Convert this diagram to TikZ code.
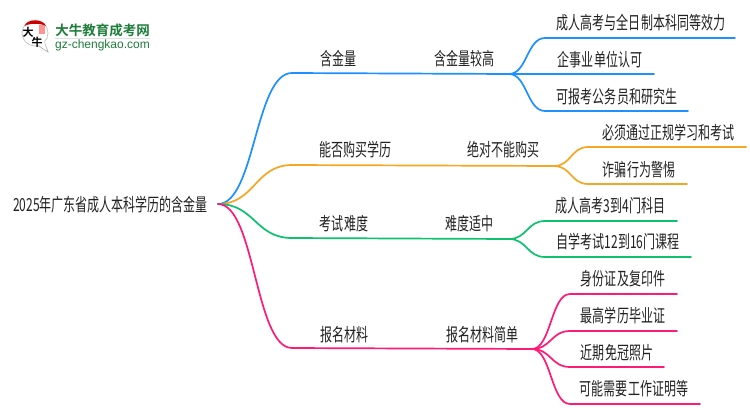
\documentclass[tikz,border=0pt]{standalone}
\usepackage{fontspec}
\setmainfont{Noto Sans CJK SC}
\newfontfamily\cjkbold{Noto Sans CJK SC Bold}
\newfontfamily\latinlogo{Liberation Sans}
\usetikzlibrary{calc}
\definecolor{cblue}{HTML}{1E90FF}
\definecolor{corange}{HTML}{F5A623}
\definecolor{cgreen}{HTML}{0CC26E}
\definecolor{cpink}{HTML}{FF1A75}
\definecolor{logogreen}{HTML}{1E7D3A}
\definecolor{ink}{HTML}{222222}
\tikzset{
  x=1pt,y=-1pt,
  lab/.style={text=ink,inner sep=0pt,font=\fontsize{18}{18}\selectfont,transform shape,xscale=.667},
  wire/.style={line width=1.7pt,line cap=round},
  s/.style={to path={let \p1=($(\tikztotarget)-(\tikztostart)$) in .. controls +(.5*\x1,0) and +(-.5*\x1,0) .. (\tikztotarget)}}
}
\begin{document}
\begin{tikzpicture}
\useasboundingbox (0,0) rectangle (750,410);
\fill[white] (0,0) rectangle (750,410);
% points
\coordinate (r) at (218,204);
\coordinate (a0) at (292,73);\coordinate (a) at (509,74);
\coordinate (a1) at (545,38);\coordinate (a1e) at (735,38);
\coordinate (a2e) at (654,74);
\coordinate (a3) at (545,111);\coordinate (a3e) at (688,111);
\coordinate (b0) at (292,165);\coordinate (b) at (554,166);
\coordinate (b1) at (588,147);\coordinate (b1e) at (746,147);
\coordinate (b2) at (588,184);\coordinate (b2e) at (687,184);
\coordinate (c0) at (292,238);\coordinate (c) at (509,239);
\coordinate (c1) at (545,221);\coordinate (c1e) at (677,221);
\coordinate (c2) at (545,257);\coordinate (c2e) at (691,257);
\coordinate (d0) at (292,348);\coordinate (d) at (532,349);
\coordinate (d1) at (570,294);\coordinate (d1e) at (677,294);
\coordinate (d2) at (570,331);\coordinate (d2e) at (677,331);
\coordinate (d3) at (570,367);\coordinate (d3e) at (664,367);
\coordinate (d4) at (570,404);\coordinate (d4e) at (700,404);
% connectors
\begin{scope}[wire,cblue]
\draw (r) to[s] (a0) -- (a);
\draw (a) to[s] (a1) -- (a1e);
\draw (a) -- (a2e);
\draw (a) to[s] (a3) -- (a3e);
\end{scope}
\begin{scope}[wire,corange]
\draw (r) to[s] (b0) -- (b);
\draw (b) to[s] (b1) -- (b1e);
\draw (b) to[s] (b2) -- (b2e);
\end{scope}
\begin{scope}[wire,cgreen]
\draw (r) to[s] (c0) -- (c);
\draw (c) to[s] (c1) -- (c1e);
\draw (c) to[s] (c2) -- (c2e);
\end{scope}
\begin{scope}[wire,cpink]
\draw (r) to[s] (d0) -- (d);
\draw (d) to[s] (d1) -- (d1e);
\draw (d) to[s] (d2) -- (d2e);
\draw (d) to[s] (d3) -- (d3e);
\draw (d) to[s] (d4) -- (d4e);
\end{scope}
% labels
\node[lab] (root) at (110.5,205) {2025年广东省成人本科学历的含金量};
\node[lab] (la) at (338.5,59) {含金量};
\node[lab] (lax) at (464.5,59) {含金量较高};
\node[lab] (la1) at (641,23) {成人高考与全日制本科同等效力};
\node[lab] (la2) at (600,60) {企事业单位认可};
\node[lab] (la3) at (617,97) {可报考公务员和研究生};
\node[lab] (lb) at (355.5,150) {能否购买学历};
\node[lab] (lbx) at (503.5,150) {绝对不能购买};
\node[lab] (lb1) at (668.5,133) {必须通过正规学习和考试};
\node[lab] (lb2) at (639,170) {诈骗行为警惕};
\node[lab] (lc) at (344,224) {考试难度};
\node[lab] (lcx) at (469.5,224) {难度适中};
\node[lab] (lc1) at (610.5,206) {成人高考3到4门科目};
\node[lab] (lc2) at (618,242) {自学考试12到16门课程};
\node[lab] (ld) at (344.5,335) {报名材料};
\node[lab] (ldx) at (482.5,335) {报名材料简单};
\node[lab] (ld1) at (623,279) {身份证及复印件};
\node[lab] (ld2) at (623,316) {最高学历毕业证};
\node[lab] (ld3) at (617,353) {近期免冠照片};
\node[lab] (ld4) at (634,389) {可能需要工作证明等};
% logo
\fill[white,draw=black!30,line width=.7pt] (37,45) -- (48,52) -- (44,41) -- cycle;
\draw[black!22,line width=.8pt,fill=white] (35,33) circle (13);
\fill[white] (38,44) -- (46,50) -- (44,40) -- cycle;
\fill[red!80!black] (24.5,26) .. controls (27,18.5) and (43,18.5) .. (46,26) .. controls (40,23) and (30,23) .. (24.5,26) -- cycle;
\fill[red!60!white,opacity=.7] (38.5,25) rectangle (45,34);
\node[inner sep=0pt,font=\cjkbold\fontsize{11}{11}\selectfont] (lg1) at (28,32) {大};
\node[inner sep=0pt,font=\cjkbold\fontsize{11}{11}\selectfont] (lg2) at (37,42) {牛};
\node[inner sep=0pt,text=logogreen,font=\cjkbold\fontsize{13.5}{13.5}\selectfont] (lg3) at (102.5,30) {大牛教育成考网};
\draw[black!12,line width=.6pt] (55,38.5) -- (150,38.5);
\node[inner sep=0pt,text=logogreen,font=\latinlogo\fontsize{12}{12}\selectfont] (lg4) at (102.5,45) {gz-chengkao.com};
\end{tikzpicture}
\end{document}
